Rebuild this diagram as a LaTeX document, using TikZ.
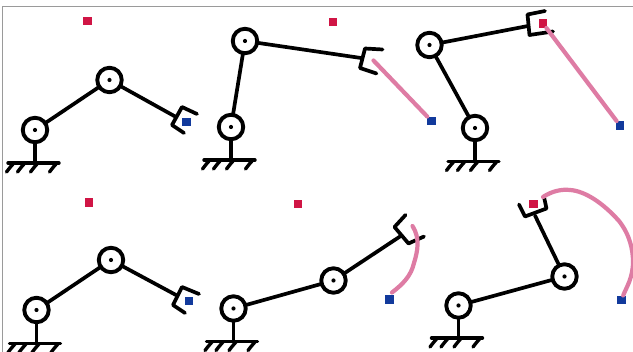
\documentclass[tikz,border=0pt]{standalone}
\tikzset{
  x=1pt,y=-1pt,
  bar/.style={line width=3.7pt,black,line cap=round,line join=round},
  joint/.style={circle,draw=black,line width=3.9pt,fill=white,minimum size=24.5pt,inner sep=0pt,outer sep=0pt},
  pivot/.style={circle,fill=black,minimum size=4.2pt,inner sep=0pt},
  redmark/.style={rectangle,fill=markred,minimum size=8.6pt,inner sep=0pt},
  bluemark/.style={rectangle,fill=markblue,minimum size=8.6pt,inner sep=0pt},
  trail/.style={line width=4.2pt,trailpink,line cap=round,line join=round},
  groundhatch/.pic={
    \draw[bar,line width=3.4pt] (-27,0) -- (24,0);
    \foreach \h in {-21,-10,3,22}
      \draw[bar,line width=3.4pt] (\h,0) .. controls (\h-3,3) and (\h-6,7) .. (\h-7.5,9);
  }
}
\definecolor{markred}{HTML}{D01545}
\definecolor{markblue}{HTML}{123A9C}
\definecolor{trailpink}{HTML}{DE7CA4}
\definecolor{frame}{HTML}{9A9A9A}
\begin{document}
\begin{tikzpicture}
\useasboundingbox (0,0) rectangle (633,352);
\clip (0,0) rectangle (633,352);
\fill[white] (0,0) rectangle (633,352);
\draw[frame,line width=1.2pt] (2.5,352) -- (2.5,6.5) -- (633,6.5);

% panel 1
\pic at (35,163) {groundhatch};
\coordinate (a3) at (176,117);
\coordinate (a4) at (35,163);
\draw[bar] (35,130) -- (a4);
\node[joint] (a1) at (35,130) {};
\node[joint] (a2) at (109.5,80) {};
\node[pivot] at (a1) {};
\node[pivot] at (a2) {};
\draw[bar] (a1) -- (a2) (a2) -- (a3);
\draw[bar] (197,114) -- (182,107) -- (172,125) -- (184,133);
\node[redmark] (ar) at (87.5,21) {};
\node[bluemark] (ab) at (186.5,122) {};

% panel 2
\pic at (231,160) {groundhatch};
\coordinate (b3) at (361,58);
\coordinate (b4) at (231,160);
\draw[bar] (231,127) -- (b4);
\node[joint] (b1) at (231,127) {};
\node[joint] (b2) at (245,41) {};
\node[pivot] at (b1) {};
\node[pivot] at (b2) {};
\draw[bar] (b1) -- (b2) (b2) -- (b3);
\draw[bar] (382.5,49.5) -- (365,48.5) -- (360,68) -- (376.5,73.5);
\node[redmark] (br) at (333,22) {};
\node[bluemark] (bb) at (431.5,121) {};
\coordinate (bt) at (373.5,60.5);
\draw[trail] (bt) -- (bb);

% panel 3
\pic at (475,161.5) {groundhatch};
\coordinate (c3) at (528,26);
\coordinate (c4) at (475,161.5);
\draw[bar] (475,128) -- (c4);
\node[joint] (c1) at (475,128) {};
\node[joint] (c2) at (429.5,45) {};
\node[pivot] at (c1) {};
\node[pivot] at (c2) {};
\draw[bar] (c1) -- (c2) (c2) -- (c3);
\draw[bar] (545,11) -- (527.5,14.5) -- (529.5,35) -- (553,31.5);
\node[bluemark] (cb) at (620,125.5) {};
\node[redmark] (cr) at (543,23.5) {};
\draw[trail] (cr) -- (cb);

% panel 4
\pic at (36.5,343.5) {groundhatch};
\coordinate (d3) at (176,295);
\coordinate (d4) at (36.5,343.5);
\draw[bar] (36.5,310) -- (d4);
\node[joint] (d1) at (36.5,310) {};
\node[joint] (d2) at (111,260) {};
\node[pivot] at (d1) {};
\node[pivot] at (d2) {};
\draw[bar] (d1) -- (d2) (d2) -- (d3);
\draw[bar] (199,294) -- (182,287) -- (173,305) -- (185,313);
\node[redmark] (dr) at (89,202.5) {};
\node[bluemark] (db) at (189,301) {};

% panel 5
\pic at (233.5,341.5) {groundhatch};
\coordinate (e3) at (400,236.5);
\coordinate (e4) at (233.5,341.5);
\draw[bar] (233.5,308.5) -- (e4);
\node[joint] (e1) at (233.5,308.5) {};
\node[joint] (e2) at (333.5,280.5) {};
\node[pivot] at (e1) {};
\node[pivot] at (e2) {};
\draw[bar] (e1) -- (e2) (e2) -- (e3);
\draw[bar] (405.5,215) -- (394.5,227) -- (408.5,243.5) -- (424,236.5);
\node[redmark] (er) at (298,204) {};
\node[bluemark] (eb) at (389.5,299.5) {};
\coordinate (et) at (412.5,226);
\coordinate (es) at (392,292.5);
\draw[trail] (es) .. controls (403,284) and (411,276) .. (414,263)
  .. controls (418,250) and (420,238) .. (et);

% panel 6
\pic at (458.5,338) {groundhatch};
\coordinate (f3) at (535,215.5);
\coordinate (f4) at (458.5,338);
\draw[bar] (458.5,305.5) -- (f4);
\node[joint] (f1) at (458.5,305.5) {};
\node[joint] (f2) at (564.5,276.5) {};
\node[pivot] at (f1) {};
\node[pivot] at (f2) {};
\draw[bar] (f1) -- (f2) (f2) -- (f3);
\draw[bar] (519,204.5) -- (525,216.5) -- (546.5,208.5) -- (544,197);
\node[redmark] (fr) at (533.5,204) {};
\node[bluemark] (fb) at (621.5,300) {};
\coordinate (ft) at (543,197);
\draw[trail] (ft) .. controls (552,191) and (562,189) .. (570,190)
  .. controls (585,191) and (603,203) .. (619,221)
  .. controls (630,235) and (633,250) .. (633,262)
  .. controls (633,278) and (626,288) .. (fb);
\end{tikzpicture}
\end{document}
